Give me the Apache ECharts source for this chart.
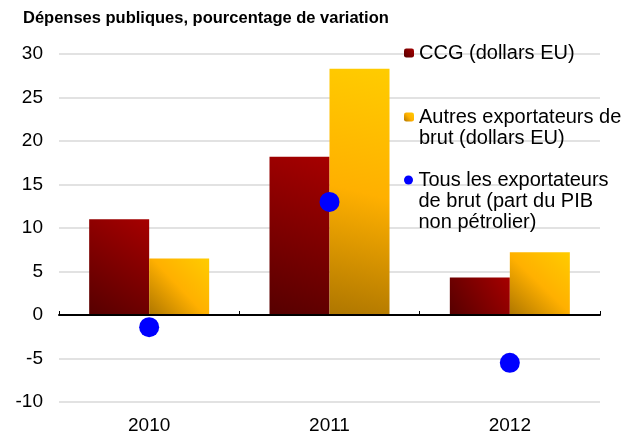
<!DOCTYPE html>
<html>
<head>
<meta charset="utf-8">
<style>
  html, body { margin: 0; padding: 0; background: #fff; }
  #chart { width: 634px; height: 439px; }
</style>
<script src="https://cdn.jsdelivr.net/npm/echarts@6/dist/echarts.min.js"></script>
</head>
<body>
<div id="chart"></div>
<script>
// données
const years = ['2010', '2011', '2012'];
const ccg = [11.0, 18.2, 4.3];          // CCG (dollars EU)
const autres = [6.5, 28.3, 7.2];        // Autres exportateurs de brut
const tous = [-1.4, 13.0, -5.5];        // Tous les exportateurs (part du PIB non pétrolier)
const names = ['CCG (dollars EU)', 'Autres exportateurs de brut', 'Tous les exportateurs de brut'];
const legendText = {
  'CCG (dollars EU)': ['CCG (dollars EU)'],
  'Autres exportateurs de brut': ['Autres exportateurs de', 'brut (dollars EU)'],
  'Tous les exportateurs de brut': ['Tous les exportateurs', 'de brut (part du PIB', 'non pétrolier)']
};

const font = 'Arial, "Liberation Sans", sans-serif';
const lh = 21;

const redGrad = new echarts.graphic.LinearGradient(1, 0, 0, 1, [
  { offset: 0, color: '#a60000' },
  { offset: 1, color: '#560000' }
]);
const orangeGrad = new echarts.graphic.LinearGradient(1, 0, 0, 1, [
  { offset: 0, color: '#ffcc00' },
  { offset: 0.5, color: '#ffb000' },
  { offset: 1, color: '#ae7600' }
]);

// une légende par entrée ; lignes vides devant pour caler l'icône sur la 1re ligne
function legendFor(name, top) {
  const lines = legendText[name];
  return {
    data: [name],
    left: 404,
    top: top,
    padding: 0,
    itemWidth: 10,
    itemHeight: 9,
    selectedMode: false,
    formatter: () => '\n'.repeat(lines.length - 1) + lines.join('\n'),
    textStyle: { fontFamily: font, fontSize: 20, color: '#000', lineHeight: lh }
  };
}

const chart = echarts.init(document.getElementById('chart'));
chart.setOption({
  animation: false,
  title: {
    text: 'Dépenses publiques, pourcentage de variation',
    left: 23, top: 10, padding: 0,
    textStyle: { fontFamily: font, fontSize: 16.5, fontWeight: 'bold', color: '#000' }
  },
  legend: [
    legendFor(names[0], 42.5),
    legendFor(names[1], 85.5),
    legendFor(names[2], 127.5)
  ],
  grid: { left: 59, right: 34, top: 54, bottom: 37 },
  xAxis: [
    {
      type: 'category', data: years, position: 'bottom',
      axisLine: { show: false, onZero: false },
      axisTick: { show: false },
      axisLabel: { fontFamily: font, fontSize: 19, color: '#000', margin: 14 }
    },
    {
      // ligne du zéro
      type: 'category', data: years, position: 'bottom', z: 5,
      axisLine: { show: true, onZero: true, lineStyle: { color: '#000', width: 2 } },
      axisTick: { show: true, inside: true, length: 4, lineStyle: { color: '#000', width: 1 } },
      axisLabel: { show: false }
    }
  ],
  yAxis: {
    type: 'value', min: -10, max: 30, interval: 5,
    axisLine: { show: false }, axisTick: { show: false },
    axisLabel: { fontFamily: font, fontSize: 19, color: '#000', margin: 16 },
    splitLine: { lineStyle: { color: '#d9d9d9', width: 1.5 } }
  },
  series: [
    { name: names[0], type: 'bar', data: ccg, barWidth: 60, barGap: '0%',
      itemStyle: { color: redGrad } },
    { name: names[1], type: 'bar', data: autres, barWidth: 60, barGap: '0%',
      itemStyle: { color: orangeGrad } },
    { name: names[2], type: 'scatter', data: tous, symbolSize: 20, z: 6,
      itemStyle: { color: '#0000ff', opacity: 1 } }
  ]
});
</script>
</body>
</html>
